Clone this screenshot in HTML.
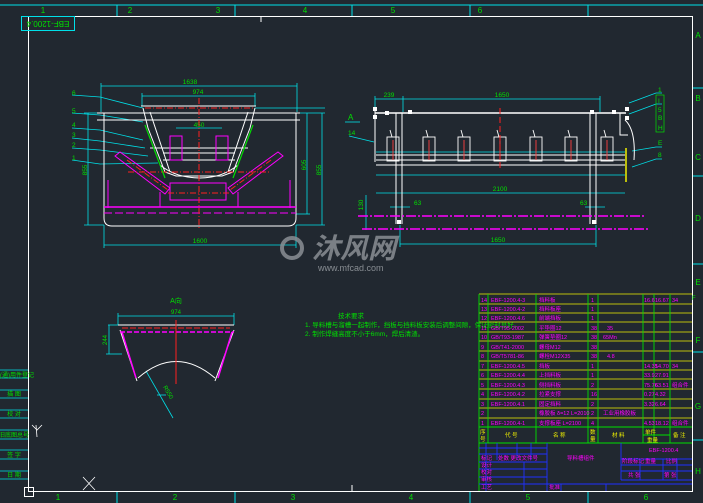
<!DOCTYPE html>
<html><head><meta charset="utf-8"><style>
html,body{margin:0;padding:0;background:#212830;width:703px;height:503px;overflow:hidden}
svg{display:block}
text{font-family:"Liberation Sans","Noto Sans CJK SC",sans-serif}
</style></head><body>
<svg width="703" height="503" viewBox="0 0 703 503" xmlns="http://www.w3.org/2000/svg">
<rect width="703" height="503" fill="#212830"/>
<!-- outer border -->
<line x1="0" y1="5" x2="703" y2="5" stroke="#00e0e8" stroke-width="1"/>
<g stroke="#00e0e8" stroke-width="1">
<line x1="117" y1="5" x2="117" y2="16"/><line x1="235" y1="5" x2="235" y2="16"/><line x1="352" y1="5" x2="352" y2="16"/><line x1="470" y1="5" x2="470" y2="16"/><line x1="588" y1="5" x2="588" y2="16"/>
<line x1="117" y1="491" x2="117" y2="503"/><line x1="235" y1="491" x2="235" y2="503"/><line x1="470" y1="491" x2="470" y2="503"/><line x1="588" y1="491" x2="588" y2="503"/>
<line x1="693" y1="88" x2="703" y2="88"/><line x1="693" y1="176" x2="703" y2="176"/><line x1="693" y1="264" x2="703" y2="264"/><line x1="693" y1="352" x2="703" y2="352"/><line x1="693" y1="440" x2="703" y2="440"/>
</g>
<rect x="28.5" y="16.5" width="664" height="475" fill="none" stroke="#fff" stroke-width="1"/>
<line x1="261" y1="16" x2="261" y2="22" stroke="#fff"/><line x1="352" y1="485" x2="352" y2="491" stroke="#fff"/>
<g fill="#00e000" font-size="8" text-anchor="middle">
<text x="43" y="13">1</text><text x="130" y="13">2</text><text x="218" y="13">3</text><text x="305" y="13">4</text><text x="393" y="13">5</text><text x="480" y="13">6</text>
<text x="58" y="500">1</text><text x="175" y="500">2</text><text x="293" y="500">3</text><text x="411" y="500">4</text><text x="528" y="500">5</text><text x="646" y="500">6</text>
<text x="698" y="38">A</text><text x="698" y="101">B</text><text x="698" y="160">C</text><text x="698" y="221">D</text><text x="698" y="285">E</text><text x="698" y="343">F</text><text x="698" y="409">G</text><text x="698" y="474">H</text>
</g>
<rect x="21.5" y="16.5" width="53" height="14" fill="none" stroke="#00e0e8"/>
<text x="48" y="27" fill="#00e000" font-size="8" text-anchor="middle" transform="rotate(180 48 24)">EBF-1200.4</text>

<!-- LEFT VIEW -->
<g stroke="#00e0e8" stroke-width="0.8" fill="none">
<line x1="101" y1="86" x2="297" y2="86"/><line x1="101" y1="83" x2="101" y2="112"/><line x1="297" y1="83" x2="297" y2="112"/>
<line x1="142" y1="96" x2="255" y2="96"/><line x1="142" y1="93" x2="142" y2="106"/><line x1="255" y1="93" x2="255" y2="106"/>
<line x1="176" y1="128" x2="222" y2="128"/>
<line x1="104" y1="245" x2="296" y2="245"/><line x1="104" y1="225" x2="104" y2="248"/><line x1="296" y1="225" x2="296" y2="248"/>
<line x1="307" y1="113" x2="307" y2="214"/><line x1="322" y1="113" x2="322" y2="225"/><line x1="88" y1="113" x2="88" y2="225"/>
<line x1="255" y1="108" x2="325" y2="108"/><line x1="255" y1="113" x2="325" y2="113"/><line x1="296" y1="214" x2="310" y2="214"/><line x1="296" y1="225" x2="325" y2="225"/>
<line x1="84" y1="225" x2="104" y2="225"/><line x1="84" y1="113" x2="104" y2="113"/>
<polyline points="72,95 100,97 143,108"/><polyline points="72,113 100,115 143,122"/><polyline points="72,128 100,130 143,140"/><polyline points="72,138 100,141 145,148"/><polyline points="72,148 100,150 148,156"/><polyline points="72,160 100,164 158,163"/>
</g>
<g fill="#00e000" font-size="6.5">
<text x="190" y="84" text-anchor="middle">1638</text><text x="198" y="94" text-anchor="middle">974</text><text x="199" y="127" text-anchor="middle">450</text><text x="200" y="243" text-anchor="middle">1600</text>
<text x="72" y="95">6</text><text x="72" y="113">5</text><text x="72" y="127">4</text><text x="72" y="137">3</text><text x="72" y="147">2</text><text x="72" y="160">1</text>
<text transform="translate(306,165) rotate(-90)" text-anchor="middle">605</text><text transform="translate(321,170) rotate(-90)" text-anchor="middle">855</text><text transform="translate(87,170) rotate(-90)" text-anchor="middle">855</text>
</g>
<g stroke="#fff" stroke-width="1" fill="none">
<line x1="141" y1="106" x2="256" y2="106"/>
<line x1="97" y1="113" x2="300" y2="113"/><line x1="97" y1="120" x2="300" y2="120"/>
<path d="M104 113 V218 Q104 226 112 226 H288 Q296 226 296 218 V113"/>
<path d="M143 108 L148 128 L165 172 L176 176 L222 176 L233 172 L250 128 L255 108"/>
<path d="M150 112 L170 172 M248 112 L228 172"/>
<path d="M160 165 Q176 178 200 178 Q222 178 238 165"/>
<line x1="150" y1="148" x2="248" y2="148"/><line x1="163" y1="153" x2="235" y2="153"/><line x1="163" y1="160" x2="235" y2="160"/>
</g>
<g stroke="#ff00ff" stroke-width="1" fill="none">
<rect x="170" y="136" width="12" height="24"/><rect x="216" y="136" width="12" height="24"/>
<path d="M115 156 L120 152 L170 188 L165 194 Z"/><path d="M283 156 L278 152 L228 188 L233 194 Z"/>
<rect x="170" y="183" width="56" height="17"/>
<line x1="104" y1="207" x2="296" y2="207" stroke-width="1.5"/>
<line x1="104" y1="213" x2="296" y2="213" stroke-dasharray="8,3"/>
<line x1="108" y1="180" x2="108" y2="208"/><line x1="290" y1="180" x2="290" y2="208"/>
<line x1="160" y1="192" x2="160" y2="207"/><line x1="238" y1="192" x2="238" y2="207"/>
</g>
<g stroke="#ff2020" stroke-width="1" fill="none" stroke-dasharray="6,2,1,2">
<line x1="199" y1="98" x2="199" y2="228"/><line x1="145" y1="108" x2="253" y2="108"/>
<line x1="127" y1="160" x2="168" y2="190"/><line x1="271" y1="160" x2="230" y2="190"/><line x1="168" y1="193" x2="230" y2="193"/><line x1="128" y1="172" x2="270" y2="172"/>
</g>
<g stroke="#00e000" stroke-width="1.2"><line x1="145" y1="125" x2="165" y2="178"/><line x1="253" y1="125" x2="233" y2="178"/></g>

<!-- RIGHT VIEW -->
<g stroke="#00e0e8" stroke-width="0.8" fill="none">
<line x1="375" y1="99" x2="600" y2="99"/><line x1="375" y1="96" x2="375" y2="112"/><line x1="403" y1="96" x2="403" y2="112"/><line x1="600" y1="96" x2="600" y2="112"/>
<line x1="376" y1="152" x2="625" y2="152"/><line x1="376" y1="175" x2="625" y2="175"/>
<line x1="376" y1="193" x2="625" y2="193"/>
<line x1="400" y1="244" x2="596" y2="244"/><line x1="400" y1="225" x2="400" y2="247"/><line x1="596" y1="225" x2="596" y2="247"/>
<line x1="390" y1="207" x2="410" y2="207"/><line x1="585" y1="207" x2="605" y2="207"/>
<line x1="366" y1="195" x2="366" y2="230"/>
<line x1="345" y1="122" x2="360" y2="122"/><line x1="349" y1="136" x2="374" y2="142"/>
<polyline points="629,103 656,93 662,93"/><polyline points="629,114 656,104 662,104"/><polyline points="632,151 656,147 662,147"/><polyline points="632,167 656,159 662,159"/>
</g>
<g fill="#00e000" font-size="6.5">
<text x="389" y="97" text-anchor="middle">239</text><text x="502" y="97" text-anchor="middle">1650</text><text x="500" y="191" text-anchor="middle">2100</text><text x="498" y="242" text-anchor="middle">1650</text>
<text x="414" y="205">63</text><text x="580" y="205">63</text><text transform="translate(363,205) rotate(-90)" text-anchor="middle">130</text>
<text x="348" y="120" font-size="8">A</text><text x="348" y="135">14</text>
<text x="658" y="92">1</text><text x="658" y="103">I</text><text x="658" y="112">5</text><text x="658" y="120">B</text><text x="658" y="130">H</text><text x="658" y="145">E</text><text x="658" y="157">8</text>
</g>
<rect x="656" y="95" width="8" height="37" fill="none" stroke="#00e000" stroke-width="0.7"/>
<g stroke="#fff" stroke-width="1" fill="none">
<line x1="375" y1="113" x2="626" y2="113" stroke-width="1.6"/>
<line x1="376" y1="155" x2="625" y2="155"/><line x1="376" y1="160" x2="625" y2="160"/><line x1="376" y1="165" x2="625" y2="165"/>
<line x1="375" y1="108" x2="375" y2="162"/>
<line x1="396" y1="113" x2="396" y2="224"/><line x1="402" y1="113" x2="402" y2="224"/><line x1="590" y1="113" x2="590" y2="224"/><line x1="596" y1="113" x2="596" y2="224"/>
<path d="M620 113 V135 H628 M625 120 Q636 130 634 160"/>
</g>
<g fill="none" stroke-width="0.9">
<g stroke="#fff"><rect x="387" y="137" width="12" height="24"/><rect x="423" y="137" width="12" height="24"/><rect x="458" y="137" width="12" height="24"/><rect x="494" y="137" width="12" height="24"/><rect x="530" y="137" width="12" height="24"/><rect x="565" y="137" width="12" height="24"/><rect x="601" y="137" width="12" height="24"/></g>
<g stroke="#fff"><path d="M390 130 l2 7 M426 130 l2 7 M461 130 l2 7 M497 130 l2 7 M533 130 l2 7 M568 130 l2 7 M604 130 l2 7"/></g>
<g stroke="#ff4040"><path d="M393 140 v20 M429 140 v20 M464 140 v20 M500 140 v20 M536 140 v20 M571 140 v20 M607 140 v20"/></g>
</g>
<line x1="500" y1="108" x2="500" y2="170" stroke="#ff2020" stroke-dasharray="6,3"/>
<line x1="626" y1="148" x2="626" y2="182" stroke="#f0f000" stroke-width="1.5"/>
<g stroke="#ff00ff" stroke-width="1.5" stroke-dasharray="10,2,2,2"><line x1="358" y1="216" x2="646" y2="216"/><line x1="362" y1="229" x2="648" y2="229"/></g>
<g fill="#fff"><rect x="373" y="107" width="4" height="4"/><rect x="373" y="115" width="4" height="4"/><rect x="385" y="111" width="4" height="4"/><rect x="408" y="110" width="4" height="4"/><rect x="590" y="110" width="4" height="4"/><rect x="612" y="110" width="4" height="4"/><rect x="625" y="107" width="4" height="4"/><rect x="625" y="116" width="4" height="4"/><rect x="397" y="220" width="4" height="4"/><rect x="592" y="220" width="4" height="4"/></g>

<!-- watermark -->
<g fill="#8a8f94" opacity="0.85">
<circle cx="292" cy="248" r="10" fill="none" stroke="#8a8f94" stroke-width="4"/>
<text x="312" y="258" font-size="28" font-weight="bold" font-style="italic">沐风网</text>
<text x="318" y="271" font-size="9" fill="#9a9fa4">www.mfcad.com</text>
</g>

<!-- A VIEW -->
<text x="176" y="303" fill="#00e000" font-size="7" text-anchor="middle">A向</text>
<g stroke="#00e0e8" stroke-width="0.8" fill="none">
<line x1="118" y1="316" x2="234" y2="316"/><line x1="118" y1="313" x2="118" y2="325"/><line x1="234" y1="313" x2="234" y2="325"/>
<line x1="108" y1="325" x2="122" y2="325"/><line x1="106" y1="354" x2="122" y2="354"/><line x1="109" y1="325" x2="109" y2="354"/>
<line x1="146" y1="371" x2="173" y2="418"/><line x1="157" y1="395" x2="166" y2="395"/>
</g>
<text x="176" y="314" fill="#00e000" font-size="6" text-anchor="middle">974</text>
<text transform="translate(107,340) rotate(-90)" fill="#00e000" font-size="6" text-anchor="middle">244</text>
<text transform="translate(163,387) rotate(60)" fill="#00e000" font-size="6">R550</text>
<g stroke="#fff" stroke-width="1" fill="none">
<line x1="118" y1="325" x2="234" y2="325"/>
<path d="M120 330 L137 381 M234 330 L215 381"/>
<path d="M138 378 Q176 345 215 378"/>
</g>
<g stroke="#ff00ff" stroke-width="1.5" fill="none"><line x1="120" y1="332" x2="234" y2="332" stroke-dasharray="5,2"/><path d="M122 332 L136 378 M232 332 L218 378"/></g>
<g stroke="#ff2020" stroke-width="1" fill="none"><line x1="176" y1="320" x2="176" y2="384"/><line x1="122" y1="328" x2="230" y2="328" stroke-dasharray="6,2"/></g>

<!-- notes -->
<g fill="#00e000" font-size="6.5">
<text x="338" y="318">技术要求</text>
<text x="305" y="327">1. 导料槽与溜槽一起制作，挡板与挡料板安装后调整间隙，保证密封良好。</text>
<text x="305" y="336">2. 制作焊缝高度不小于6mm，焊后清渣。</text>
</g>

<!-- left side table -->
<g stroke="#00e0e8" stroke-width="0.8">
<line x1="0" y1="370" x2="28" y2="370"/><line x1="0" y1="378" x2="28" y2="378"/><line x1="0" y1="390" x2="28" y2="390"/><line x1="0" y1="398" x2="28" y2="398"/><line x1="0" y1="410" x2="28" y2="410"/><line x1="0" y1="418" x2="28" y2="418"/><line x1="0" y1="430" x2="28" y2="430"/><line x1="0" y1="439" x2="28" y2="439"/><line x1="0" y1="450" x2="28" y2="450"/><line x1="0" y1="459" x2="28" y2="459"/><line x1="0" y1="471" x2="28" y2="471"/><line x1="0" y1="479" x2="28" y2="479"/>
</g>
<g fill="#00e000" font-size="6" text-anchor="middle">
<text x="14" y="377">借(通)用件登记</text><text x="14" y="396">描 图</text><text x="14" y="416">校 对</text><text x="14" y="437">旧底图总号</text><text x="14" y="457">签 字</text><text x="14" y="477">日 期</text>
</g>
<rect x="24.5" y="487.5" width="9" height="9" fill="none" stroke="#fff"/>
<path d="M36 425 L37 437 M32 425 L37 430 L42 425" stroke="#fff" fill="none" stroke-width="0.8"/>
<path d="M83 477 L95 490 M95 477 L83 490" stroke="#fff" stroke-width="0.8"/>

<!-- BOM table -->
<g stroke="#f0f000" stroke-width="0.8">
<line x1="479" y1="294" x2="692" y2="294"/><line x1="479" y1="304" x2="692" y2="304"/><line x1="479" y1="313" x2="692" y2="313"/><line x1="479" y1="322" x2="692" y2="322"/><line x1="479" y1="332" x2="692" y2="332"/><line x1="479" y1="341" x2="692" y2="341"/><line x1="479" y1="351" x2="692" y2="351"/><line x1="479" y1="361" x2="692" y2="361"/><line x1="479" y1="370" x2="692" y2="370"/><line x1="479" y1="379" x2="692" y2="379"/><line x1="479" y1="389" x2="692" y2="389"/><line x1="479" y1="399" x2="692" y2="399"/><line x1="479" y1="408" x2="692" y2="408"/><line x1="479" y1="418" x2="692" y2="418"/>
</g>
<g stroke="#00e000" stroke-width="0.9">
<line x1="479" y1="294" x2="479" y2="491"/><line x1="488" y1="294" x2="488" y2="443"/><line x1="536" y1="294" x2="536" y2="443"/><line x1="588" y1="294" x2="588" y2="443"/><line x1="598" y1="294" x2="598" y2="443"/><line x1="643" y1="294" x2="643" y2="443"/><line x1="654" y1="294" x2="654" y2="443"/><line x1="670" y1="294" x2="670" y2="443"/>
<line x1="479" y1="427" x2="692" y2="427"/><line x1="479" y1="443" x2="692" y2="443"/><line x1="643" y1="435" x2="670" y2="435"/>
</g>
<g fill="#ff00ff" font-size="5.5">
<text x="481" y="302">14</text><text x="491" y="302">EBF-1200.4-3</text><text x="539" y="302">挡料板</text><text x="591" y="302">1</text><text x="644" y="302">16.6</text><text x="655" y="302">16.67</text><text x="672" y="302">34</text>
<text x="481" y="311">13</text><text x="491" y="311">EBF-1200.4-2</text><text x="539" y="311">挡料板座</text><text x="591" y="311">1</text>
<text x="481" y="320">12</text><text x="491" y="320">EBF-1200.4.6</text><text x="539" y="320">前端挡板</text><text x="591" y="320">1</text>
<text x="481" y="330">11</text><text x="491" y="330">GB/T95-2002</text><text x="539" y="330">平垫圈12</text><text x="591" y="330">38</text><text x="607" y="330">35</text>
<text x="481" y="339">10</text><text x="491" y="339">GB/T93-1987</text><text x="539" y="339">弹簧垫圈12</text><text x="591" y="339">38</text><text x="603" y="339">65Mn</text>
<text x="481" y="349">9</text><text x="491" y="349">GB/T41-2000</text><text x="539" y="349">螺母M12</text><text x="591" y="349">38</text>
<text x="481" y="358">8</text><text x="491" y="358">GB/T5781-86</text><text x="539" y="358">螺栓M12X35</text><text x="591" y="358">38</text><text x="607" y="358">4.8</text>
<text x="481" y="368">7</text><text x="491" y="368">EBF-1200.4.5</text><text x="539" y="368">挡板</text><text x="591" y="368">1</text><text x="644" y="368">14.35</text><text x="655" y="368">14.70</text><text x="672" y="368">34</text>
<text x="481" y="377">6</text><text x="491" y="377">EBF-1200.4.4</text><text x="539" y="377">上挡料板</text><text x="591" y="377">1</text><text x="644" y="377">33.9</text><text x="655" y="377">27.91</text>
<text x="481" y="387">5</text><text x="491" y="387">EBF-1200.4.3</text><text x="539" y="387">侧挡料板</text><text x="591" y="387">2</text><text x="644" y="387">75.76</text><text x="655" y="387">63.51</text><text x="672" y="387">组合件</text>
<text x="481" y="396">4</text><text x="491" y="396">EBF-1200.4.2</text><text x="539" y="396">拉紧支撑</text><text x="591" y="396">16</text><text x="644" y="396">0.27</text><text x="655" y="396">4.32</text>
<text x="481" y="406">3</text><text x="491" y="406">EBF-1200.4.1</text><text x="539" y="406">固定挡料</text><text x="591" y="406">2</text><text x="644" y="406">3.32</text><text x="655" y="406">6.64</text>
<text x="481" y="415">2</text><text x="539" y="415">橡胶板 δ=12 L=2010</text><text x="591" y="415">2</text><text x="603" y="415">工业用橡胶板</text>
<text x="481" y="425">1</text><text x="491" y="425">EBF-1200.4-1</text><text x="539" y="425">支撑板座 L=2100</text><text x="591" y="425">4</text><text x="644" y="425">4.53</text><text x="655" y="425">18.12</text><text x="672" y="425">组合件</text>
</g>
<g fill="#f0f000" font-size="5.5">
<text x="480" y="434">序</text><text x="480" y="441">号</text><text x="505" y="437">代 号</text><text x="553" y="437">名 称</text><text x="590" y="434">数</text><text x="590" y="441">量</text><text x="612" y="437">材 料</text><text x="645" y="434">单件</text><text x="647" y="442">重量</text><text x="673" y="437">备 注</text>
</g>
<!-- title block -->
<g stroke="#2030ff" stroke-width="0.9" fill="none">
<line x1="479" y1="448" x2="547" y2="448"/><line x1="479" y1="454" x2="547" y2="454"/><line x1="479" y1="462" x2="547" y2="462"/><line x1="479" y1="469" x2="547" y2="469"/><line x1="479" y1="477" x2="547" y2="477"/><line x1="479" y1="484" x2="692" y2="484"/>
<line x1="486" y1="443" x2="486" y2="491"/><line x1="497" y1="443" x2="497" y2="460"/><line x1="517" y1="443" x2="517" y2="460"/><line x1="531" y1="443" x2="531" y2="460"/><line x1="524" y1="462" x2="524" y2="491"/><line x1="547" y1="443" x2="547" y2="491"/>
<line x1="561" y1="484" x2="561" y2="491"/><line x1="606" y1="484" x2="606" y2="491"/>
<line x1="621" y1="443" x2="621" y2="480"/><line x1="621" y1="459" x2="692" y2="459"/><line x1="621" y1="465" x2="692" y2="465"/><line x1="621" y1="471" x2="692" y2="471"/><line x1="621" y1="480" x2="692" y2="480"/><line x1="640" y1="459" x2="640" y2="480"/><line x1="663" y1="459" x2="663" y2="480"/><line x1="677" y1="459" x2="677" y2="480"/>
</g>
<g fill="#ff00ff" font-size="5.5">
<text x="567" y="460">导料槽组件</text><text x="649" y="452">EBF-1200.4</text>
<text x="481" y="460">标记</text><text x="498" y="460">处数 更改文件号</text>
<text x="622" y="463">阶段标记</text><text x="645" y="463">重量</text><text x="666" y="463">比例</text>
<text x="628" y="477">共 张</text><text x="664" y="477">第 张</text>
<text x="481" y="467">设计</text><text x="481" y="474">校对</text><text x="481" y="481">审核</text><text x="481" y="489">工艺</text>
<text x="549" y="489">批准</text>
</g>
<g fill="#00e000" font-size="6"><text x="692" y="300">F</text></g>
</svg>
</body></html>
